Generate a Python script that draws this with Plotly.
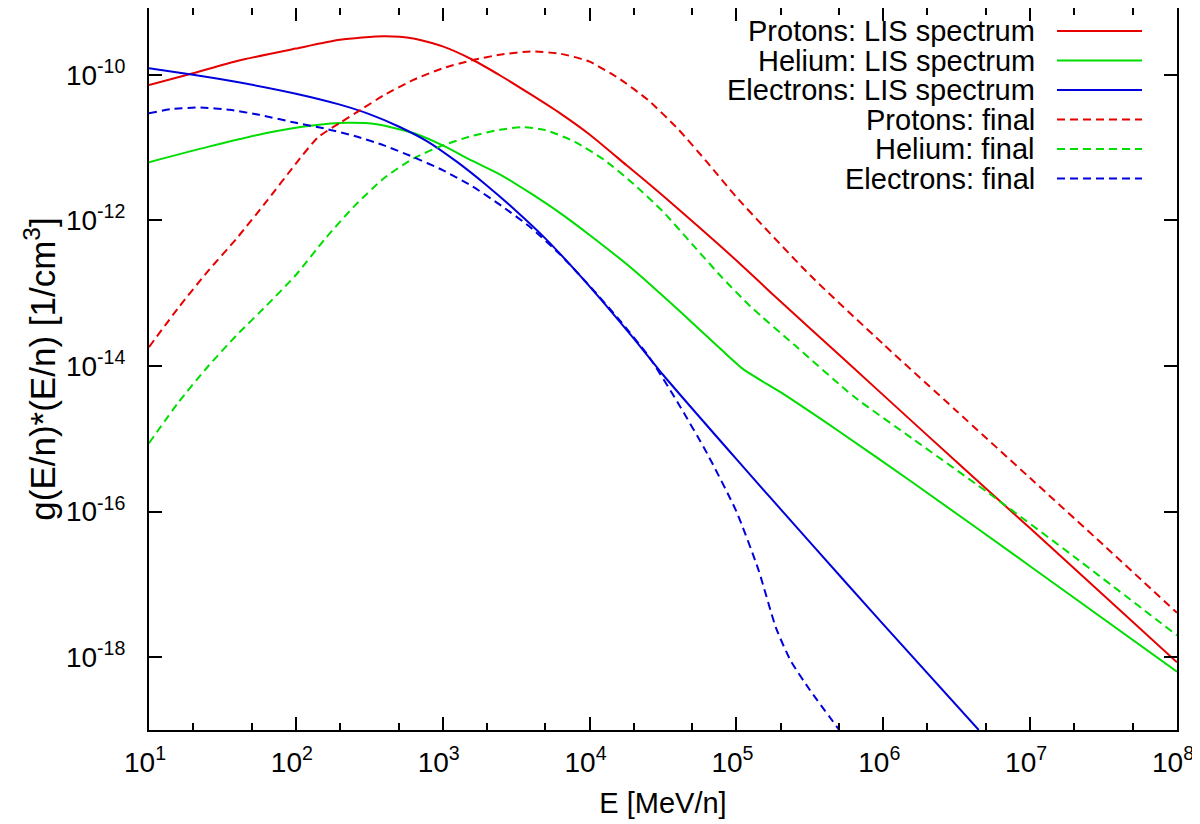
import numpy as np
import plotly.graph_objects as go

# ---- data (log10 of E [MeV/n] and log10 of g(E/n)*(E/n) [1/cm^3]) ----
p_lis_logE = [1.0, 1.3, 1.6, 2.0, 2.3, 2.6, 2.8, 3.0, 3.2, 3.4, 3.6, 3.8, 4.0, 4.25, 4.5, 4.75,
              5.0, 5.25, 5.5, 6.0, 6.5, 7.0, 7.5, 8.0]
p_lis_logG = [-10.14, -9.98, -9.81, -9.64, -9.52, -9.47, -9.5, -9.61, -9.79, -10.02, -10.27, -10.53,
              -10.82, -11.24, -11.66, -12.1, -12.55, -13.02, -13.48, -14.4, -15.32, -16.23, -17.15, -18.07]

he_lis_logE = [1.0, 1.4, 1.8, 2.1, 2.35, 2.55, 2.8, 3.0, 3.2, 3.4, 3.6, 3.8, 4.0, 4.3, 4.6, 4.9,
               5.05, 5.3, 5.7, 6.2, 7.0, 8.0]
he_lis_logG = [-11.2, -10.99, -10.8, -10.7, -10.66, -10.68, -10.8, -10.97, -11.18, -11.38, -11.63,
               -11.9, -12.2, -12.68, -13.22, -13.78, -14.05, -14.36, -14.9, -15.6, -16.75, -18.2]

el_lis_logE = [1.0, 1.3, 1.6, 2.0, 2.3, 2.5, 2.7, 2.9, 3.1, 3.3, 3.5, 3.7, 3.9, 4.1, 4.3, 4.5,
               5.0, 5.5, 6.0, 6.65]
el_lis_logG = [-9.91, -10.0, -10.1, -10.26, -10.41, -10.54, -10.71, -10.92, -11.2, -11.52, -11.87,
               -12.25, -12.68, -13.14, -13.62, -14.12, -15.28, -16.42, -17.55, -19.0]

p_fin_logE = [1.0, 1.2, 1.4, 1.6, 1.8, 2.0, 2.15, 2.3, 2.45, 2.6, 2.8, 3.0, 3.2, 3.4, 3.6, 3.8,
              4.0, 4.2, 4.4, 4.6, 4.8, 5.0, 5.5, 6.0, 6.5, 7.0, 7.5, 8.0]
p_fin_logG = [-13.74, -13.2, -12.7, -12.24, -11.74, -11.22, -10.86, -10.66, -10.47, -10.28, -10.07,
              -9.91, -9.8, -9.72, -9.68, -9.71, -9.82, -10.05, -10.35, -10.74, -11.2, -11.68,
              -12.75, -13.7, -14.62, -15.54, -16.46, -17.39]

he_fin_logE = [1.0, 1.2, 1.4, 1.6, 1.8, 2.0, 2.2, 2.4, 2.6, 2.8, 3.0, 3.2, 3.4, 3.55, 3.7, 3.9,
               4.1, 4.3, 4.5, 4.7, 4.9, 5.1, 5.4, 5.8, 6.2, 6.7, 7.3, 8.0]
he_fin_logG = [-15.06, -14.5, -14.01, -13.57, -13.17, -12.75, -12.25, -11.8, -11.42, -11.15, -10.97,
               -10.84, -10.75, -10.72, -10.76, -10.92, -11.17, -11.5, -11.88, -12.33, -12.78,
               -13.19, -13.72, -14.42, -15.0, -15.72, -16.62, -17.70]

el_fin_logE = [1.0, 1.15, 1.35, 1.55, 1.75, 2.0, 2.2, 2.4, 2.6, 2.8, 3.0, 3.2, 3.4, 3.6, 3.8, 4.0,
               4.2, 4.4, 4.6, 4.8, 5.0, 5.15, 5.27, 5.37, 5.5, 5.7]
el_fin_logG = [-10.53, -10.47, -10.45, -10.48, -10.55, -10.66, -10.74, -10.84, -10.97, -11.13,
               -11.31, -11.53, -11.8, -12.1, -12.47, -12.9, -13.36, -13.86, -14.5, -15.2, -16.0,
               -16.8, -17.6, -18.05, -18.45, -19.0]

series_names = ["Protons: LIS spectrum", "Helium: LIS spectrum", "Electrons: LIS spectrum",
                "Protons: final", "Helium: final", "Electrons: final"]

x_tick_exps = [1, 2, 3, 4, 5, 6, 7, 8]
y_tick_exps = [-10, -12, -14, -16, -18]

# ---- styling ----
RED, GREEN, BLUE = "#e60000", "#00dd00", "#0000dd"
FONT = "Liberation Sans, Arial, Helvetica, sans-serif"
FS = 28
DASH = "8px,5px"

series = [
    (p_lis_logE, p_lis_logG, RED, "solid"),
    (he_lis_logE, he_lis_logG, GREEN, "solid"),
    (el_lis_logE, el_lis_logG, BLUE, "solid"),
    (p_fin_logE, p_fin_logG, RED, DASH),
    (he_fin_logE, he_fin_logG, GREEN, DASH),
    (el_fin_logE, el_fin_logG, BLUE, DASH),
]

fig = go.Figure()
for name, (lx, ly, col, dash) in zip(series_names, series):
    fig.add_trace(go.Scatter(
        x=10.0 ** np.array(lx), y=10.0 ** np.array(ly), mode="lines", name=name,
        line=dict(color=col, width=2, dash=dash, shape="spline", smoothing=0.6),
        showlegend=False,
    ))

# page has an 8px body margin: figure occupies (8,8)-(1200,824) of the window
OFF = 8
W, H = 1200 - OFF, 824 - OFF
PX_L, PX_R, PX_T, PX_B = 149, 1177, 8, 730   # plot area in window pixels
L, R, T, B = PX_L - OFF, W + OFF - PX_R, PX_T - OFF, H + OFF - PX_B
pw, ph = PX_R - PX_L, PX_B - PX_T
DEC_PX = 72.8  # pixels per y-decade in the reference
y_top = -19 + ph / DEC_PX

# gnuplot-style key: right-aligned text, sample line on the right
row0, drow = 31, 29.5
for i, (name, (lx, ly, col, dash)) in enumerate(zip(series_names, series)):
    py = row0 + i * drow
    yp = (PX_B - py) / ph
    fig.add_annotation(x=(1037 - PX_L) / pw, y=yp, xref="paper", yref="paper", text=name,
                       showarrow=False, xanchor="right", yanchor="middle",
                       font=dict(family=FONT, size=29, color="black"))
    fig.add_shape(type="line", xref="paper", yref="paper",
                  x0=(1057 - PX_L) / pw, x1=(1142 - PX_L) / pw, y0=yp, y1=yp,
                  line=dict(color=col, width=2, dash=dash))

fig.update_xaxes(
    type="log", range=[1, 8],
    tickvals=[10.0 ** e for e in x_tick_exps],
    ticktext=[f"10<sup>{e}</sup>" for e in x_tick_exps],
    ticks="inside", ticklen=13, tickwidth=1.5, tickcolor="black",
    minor=dict(ticks="inside", ticklen=7, tickwidth=1.5, tickcolor="black", showgrid=False),
    showline=True, linecolor="black", linewidth=2, mirror="ticks",
    showgrid=False, zeroline=False,
    tickfont=dict(family=FONT, size=FS, color="black"), ticklabelstandoff=6,
    ticklabelshift=-4,
    title=dict(text="E [MeV/n]", font=dict(family=FONT, size=29, color="black"), standoff=16),
)
fig.update_yaxes(
    type="log", range=[-19, y_top],
    tickvals=[10.0 ** e for e in y_tick_exps],
    ticktext=[f"10<sup>{e}</sup>" for e in y_tick_exps],
    ticks="inside", ticklen=13, tickwidth=1.5, tickcolor="black",
    showline=True, linecolor="black", linewidth=2, mirror="ticks",
    showgrid=False, zeroline=False,
    tickfont=dict(family=FONT, size=FS, color="black"), ticklabelstandoff=16,
    title=dict(text="g(E/n)*(E/n) [1/cm<sup>3</sup>]",
               font=dict(family=FONT, size=35, color="black"), standoff=0),
)
fig.update_layout(
    width=W, height=H, autosize=False,
    margin=dict(l=L, r=R, t=T, b=B, autoexpand=False),
    paper_bgcolor="white", plot_bgcolor="white",
    font=dict(family=FONT, size=FS, color="black"),
)
fig.write_html("out.html")
